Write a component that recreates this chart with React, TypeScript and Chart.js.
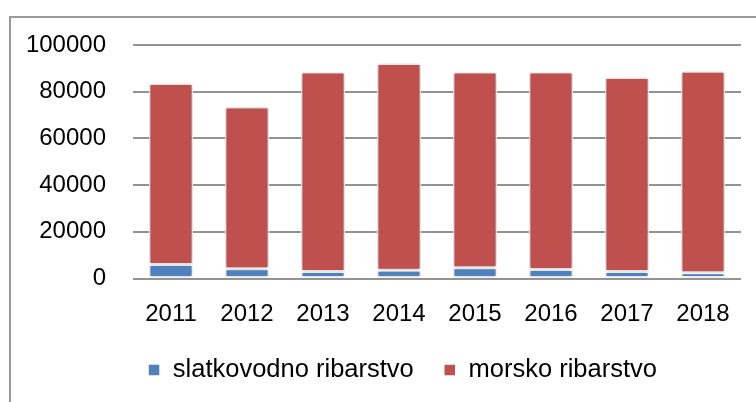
import React, { useEffect, useRef } from "react";
import { Chart, registerables } from "chart.js";

Chart.register(...registerables);

const years = ["2011", "2012", "2013", "2014", "2015", "2016", "2017", "2018"];
const slatkovodno = [6000, 4200, 3000, 3500, 4600, 3900, 3000, 2500];
const morsko = [77500, 69300, 85400, 88600, 83800, 84500, 83100, 86300];
const yTickValues = [0, 20000, 40000, 60000, 80000, 100000];
const seriesNames = ["slatkovodno ribarstvo", "morsko ribarstvo"];
const seriesColors = ["#4F81BD", "#C0504D"];

const FONT = "'Liberation Sans', Arial, sans-serif";

const barShadow = {
  id: "barShadow",
  beforeDatasetsDraw(chart: any) {
    const c = chart.ctx;
    c.save();
    c.shadowColor = "rgba(0,0,0,0.28)";
    c.shadowBlur = 4;
    c.shadowOffsetX = 0;
    c.shadowOffsetY = 0;
  },
  afterDatasetsDraw(chart: any) {
    chart.ctx.restore();
  },
};

const legendShift = {
  id: "legendShift",
  afterLayout(chart: any) {
    if (chart.legend) {
      chart.legend.left += 22;
      chart.legend.right += 22;
    }
  },
};

export default function App() {
  const ref = useRef<HTMLCanvasElement | null>(null);

  useEffect(() => {
    if (!ref.current) return;
    const chart = new Chart(ref.current, {
      type: "bar",
      data: {
        labels: years,
        datasets: [
          {
            label: seriesNames[0],
            data: slatkovodno,
            backgroundColor: seriesColors[0],
            borderColor: "#ffffff",
            borderWidth: 1.5,
            borderSkipped: false,
          },
          {
            label: seriesNames[1],
            data: morsko,
            backgroundColor: seriesColors[1],
            borderColor: "#ffffff",
            borderWidth: 1.5,
            borderSkipped: false,
          },
        ],
      },
      options: {
        responsive: false,
        animation: false,
        devicePixelRatio: 1,
        datasets: { bar: { barPercentage: 0.58, categoryPercentage: 1 } },
        layout: { padding: { left: 20, right: 15, top: 45, bottom: 9.25 } },
        scales: {
          x: {
            stacked: true,
            grid: { display: false, drawTicks: false },
            border: { display: false },
            ticks: { color: "#000", font: { family: FONT, size: 24 }, padding: 21 },
            afterFit(scale: any) {
              scale.height = 48.75;
            },
          },
          y: {
            stacked: true,
            min: 0,
            max: 100000,
            grid: { color: "#939393", lineWidth: 2, drawTicks: false },
            border: { display: false },
            ticks: {
              color: "#000",
              font: { family: FONT, size: 24 },
              padding: 27,
              callback: (v: any) => String(v),
            },
            afterBuildTicks(scale: any) {
              scale.ticks = yTickValues.map((v) => ({ value: v }));
            },
            afterFit(scale: any) {
              scale.width = 113;
            },
          },
        },
        plugins: {
          legend: {
            position: "bottom",
            labels: {
              color: "#000",
              font: { family: FONT, size: 25.5 },
              boxWidth: 12,
              boxHeight: 12,
              padding: 30,
            },
          },
          tooltip: { enabled: false },
        },
      },
      plugins: [barShadow, legendShift],
    });
    return () => chart.destroy();
  }, []);

  return (
    <div
      style={{
        position: "fixed",
        left: 0,
        top: 0,
        width: 756,
        height: 402,
        overflow: "hidden",
        background: "#fff",
      }}
    >
      <div
        style={{
          position: "absolute",
          left: 9,
          top: 16,
          width: 820,
          height: 500,
          border: "2px solid #9a9a9a",
        }}
      />
      <canvas
        ref={ref}
        width={756}
        height={402}
        style={{ position: "absolute", left: 0, top: 0, width: 756, height: 402 }}
      />
    </div>
  );
}
